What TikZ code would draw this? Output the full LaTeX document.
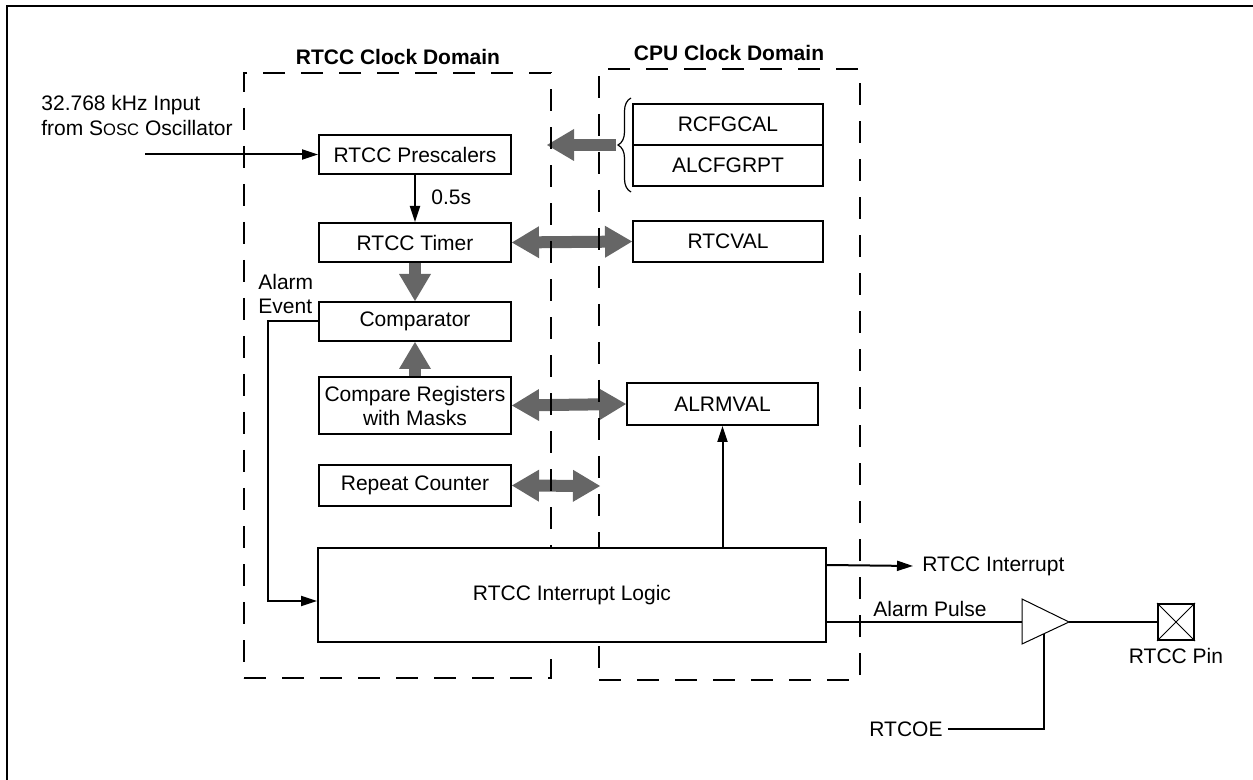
\documentclass[tikz,border=0pt]{standalone}
\usepackage{fontspec}
\setmainfont{Liberation Sans}
\usetikzlibrary{arrows.meta,decorations.pathreplacing,calc}
\definecolor{fatgray}{RGB}{102,102,102}
\tikzset{
  blockbox/.style={draw, fill=white, line width=1pt, inner sep=0pt, minimum width=96pt, minimum height=19.5pt, align=center},
  regbox/.style={draw, fill=white, line width=1pt, inner sep=0pt, minimum width=95pt, minimum height=20.5pt},
  clkdomain/.style={draw, line width=1pt, dash pattern=on 11pt off 8pt, inner sep=0pt},
  domtitle/.style={font=\bfseries\fontsize{10.5}{12}\selectfont},
  wire/.style={line width=1pt},
  sig/.style={line width=1pt, -{Triangle[length=8pt,width=5pt]}},
  fat/.style={line width=6pt, draw=fatgray, -{Triangle[length=13.5pt,width=16pt,line width=0pt]}},
  fatboth/.style={line width=6pt, draw=fatgray, {Triangle[length=13.5pt,width=16pt,line width=0pt]}-{Triangle[length=13.5pt,width=16pt,line width=0pt]}},
  lbl/.style={inner sep=0pt}
}
\begin{document}
\begin{tikzpicture}[x=0.5pt,y=-0.5pt,font=\fontsize{10.5}{12}\selectfont]
\useasboundingbox (0,0) rectangle (1253,780);
% outer frame
\draw[line width=1.1pt] (7,780) -- (7,6) -- (1253,6);

\node[domtitle] (rtcctitle) at (398,57) {RTCC Clock Domain};
\node[domtitle] (cputitle) at (729,53) {CPU Clock Domain};

% RTCC column
\node[blockbox] (presc) at (415,154.5) {RTCC Prescalers};
\node[blockbox] (timer) at (415,242.5) {RTCC Timer};
\node[blockbox] (comp) at (415,321.5) {Comparator};
\node[blockbox, minimum height=28.5pt] (cmpreg) at (415,405.5) {Compare Registers\\with Masks};
\node[blockbox, minimum height=20pt] (repeat) at (415,485.5) {Repeat Counter};

% CPU column
\node[regbox] (rcfg) at (728,124.5) {RCFGCAL};
\node[regbox] (alcf) at (728,165.5) {ALCFGRPT};
\node[regbox] (rtcval) at (728,241.5) {RTCVAL};
\node[regbox, minimum width=95.5pt, minimum height=21pt] (alrm) at (722.5,404) {ALRMVAL};

% input
\node[lbl, anchor=west, align=left, font=\fontsize{10.5}{12.5}\selectfont] (inputtxt) at (41,115.5) {32.768 kHz Input\\from S{\fontsize{8.3}{8.3}\selectfont OSC} Oscillator};
\coordinate (inptstart) at (145,154.5);
\draw[sig] (inptstart) -- (presc.west);

% prescaler to timer
\draw[sig] (presc.south) -- (timer.north);
\node[lbl, anchor=west] (halfs) at (431,197) {0.5s};

% fat arrows
\draw[fatboth] (timer.east) -- (rtcval.west);
\draw[fat] (timer.south) -- (comp.north);
\draw[fat] (cmpreg.north) -- (comp.south);
\draw[fatboth] (cmpreg.east) -- (alrm.west);
\coordinate (repend) at (600,486);
\draw[fatboth] (repeat.east) -- (repend);

% brace and arrow
\draw[line width=0.6pt, decorate, decoration={brace, amplitude=6.5pt}] (631,192) -- (631,98);
\coordinate (bracetip) at (616,145);
\coordinate (braceend) at (547,145);
\draw[fat] (bracetip) -- (braceend);

% domains (drawn over the fat arrows, under the interrupt logic block)
\node[clkdomain, minimum width=153.5pt, minimum height=302.5pt] (rtccdom) at (397.5,375.5) {};
\node[clkdomain, minimum width=130.5pt, minimum height=305.5pt] (cpudom) at (729.5,374.5) {};

% interrupt logic
\node[blockbox, minimum width=254pt, minimum height=47pt] (intr) at (572,595) {RTCC Interrupt Logic};

% alarm event
\node[lbl, anchor=west, align=left] (alarmevt) at (258,294) {Alarm\\Event};
\draw[sig] (comp.west) -- ++(-50,0) |- ([yshift=-3pt]intr.west);

% intr to alrmval
\draw[sig] (intr.north -| alrm.south) -- (alrm.south);

% RTCC interrupt
\node[lbl, anchor=west] (intlbl) at (922,566) {RTCC Interrupt};
\draw[sig] ([yshift=-9pt]intr.north east) -- ([xshift=-4.5pt]intlbl.west);

% buffer
\coordinate (bufin) at (1022,622);
\coordinate (buftip) at (1069,622);
\coordinate (bufbot) at (1044,633.7);
\draw[line width=0.5pt] (1022,599) -- (buftip) -- (1022,644) -- cycle;
\draw[wire] ([yshift=-13.5pt]intr.east) -- (bufin);
\node[lbl] (pulselbl) at (930,609) {Alarm Pulse};

% pin
\node[draw, line width=1pt, inner sep=0pt, minimum size=18pt] (pin) at (1176,622) {};
\draw[line width=0.5pt] (pin.north west) -- (pin.south east) (pin.south west) -- (pin.north east);
\draw[wire] (buftip) -- (pin.west);
\node[lbl] (pinlbl) at (1176,656) {RTCC Pin};

% RTCOE
\node[lbl] (rtcoe) at (906,729) {RTCOE};
\draw[wire] ([xshift=2.5pt]rtcoe.east) -| (bufbot);
\end{tikzpicture}
\end{document}
